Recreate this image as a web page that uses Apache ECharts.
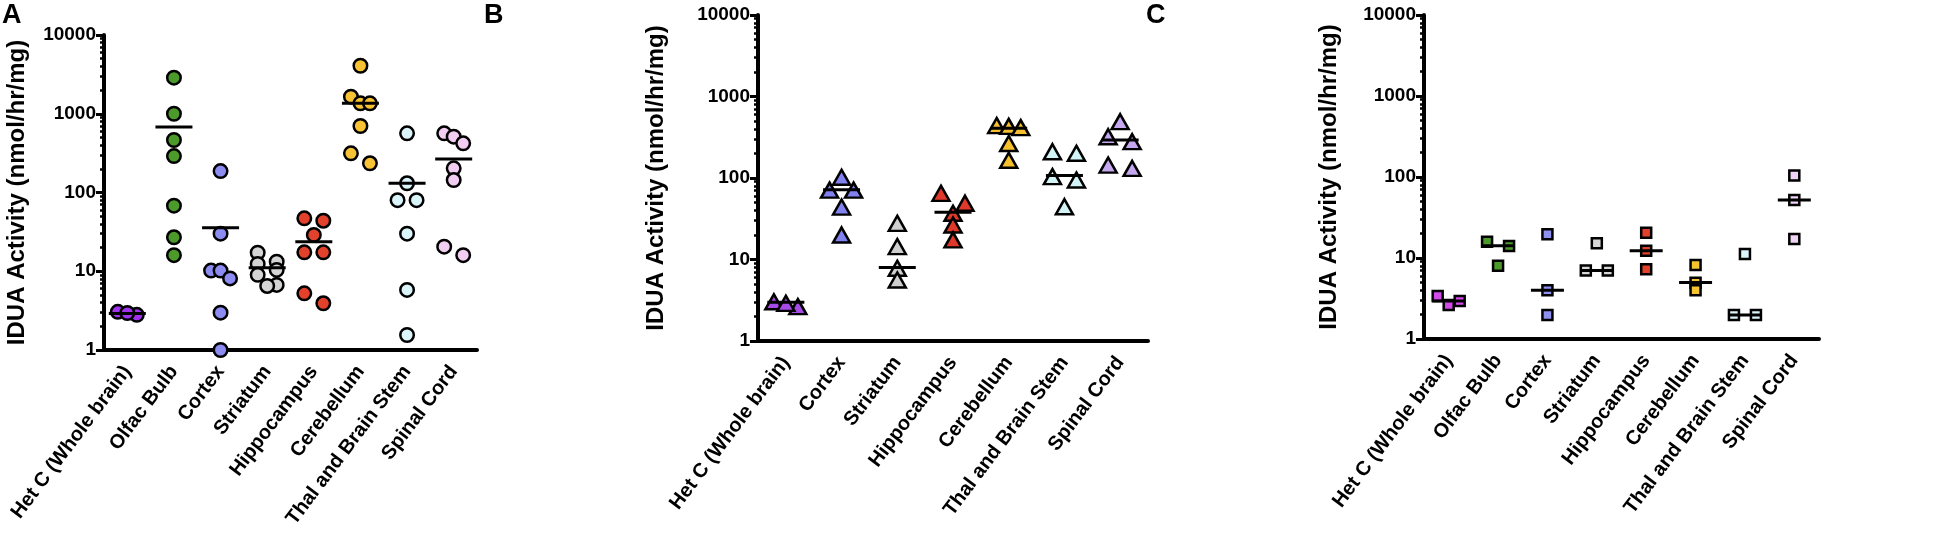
<!DOCTYPE html>
<html>
<head>
<meta charset="utf-8">
<title>IDUA Activity by brain region</title>
<script src="https://cdn.jsdelivr.net/npm/echarts@6.0.0/dist/echarts.min.js"></script>
<style>
    html, body { margin: 0; padding: 0; background: #fff; }
    #chart { width: 1954px; height: 541px; }
</style>
</head>
<body>
<div id="chart"></div>
<script>
// categories (x axis)
var regionsA = ['Het C (Whole brain)', 'Olfac Bulb', 'Cortex', 'Striatum', 'Hippocampus', 'Cerebellum', 'Thal and Brain Stem', 'Spinal Cord'];
var regionsB = ['Het C (Whole brain)', 'Cortex', 'Striatum', 'Hippocampus', 'Cerebellum', 'Thal and Brain Stem', 'Spinal Cord'];
var regionsC = ['Het C (Whole brain)', 'Olfac Bulb', 'Cortex', 'Striatum', 'Hippocampus', 'Cerebellum', 'Thal and Brain Stem', 'Spinal Cord'];

// IDUA activity (nmol/hr/mg), one list of animals per region
var valuesA = [
    [2.8, 3.05, 2.95],
    [2870, 1000, 464, 290, 68, 27, 16],
    [187, 30, 10.2, 10.2, 8.1, 2.98, 1.0],
    [17.2, 13.2, 12.4, 10.4, 9.0, 6.7, 6.5],
    [47, 43.8, 28.9, 17.4, 17.4, 5.25, 3.92],
    [4070, 1648, 1358, 1358, 699, 314, 235],
    [564, 131, 80, 80, 30, 5.8, 1.55],
    [564, 511, 421, 203, 144, 20.5, 16]
];
var valuesB = [
    [2.64, 3.03, 2.9],
    [102, 71, 71, 44, 20],
    [27.8, 14.4, 7.8, 5.6],
    [64.9, 49, 36.9, 26.5, 17.4],
    [440, 430, 415, 265, 165],
    [210, 201, 104, 94.5, 44.4],
    [491, 321, 279, 144, 131]
];
var valuesC = [
    [2.63, 3.4, 2.94],
    [15.9, 14.1, 8.0],
    [19.6, 4.0, 1.98],
    [15.2, 7.0, 7.0],
    [20.5, 12.3, 7.25],
    [8.2, 4.96, 4.0],
    [11.2, 1.98, 1.98],
    [104, 52, 17.2]
];

// horizontal bars (group centre lines)
var centersA = [2.9, 679, 35.7, 11.1, 23.7, 1358, 131, 266];
var centersB = [2.98, 72, 8.0, 37.9, 407, 107, 293];
var centersC = [2.94, 14.2, 4.0, 7.0, 12.3, 5.0, 1.98, 52];

// y axis ticks
var majorTicks = [1, 10, 100, 1000, 10000];
var minorTicks = [];
majorTicks.slice(0, -1).forEach(function (d) {
    for (var m = 2; m <= 9; m++) minorTicks.push(d * m);
});

var FONT = '"Liberation Sans", Arial, sans-serif';

var colorsA = ['#a132ee', '#4c9a2a', '#8c8cf2', '#d4d4d4', '#e2412b', '#f7c233', '#d9f5fa', '#f2cdf2'];
var colorsB = ['#a64be6', '#8181f0', '#cfcfcf', '#e0392b', '#f5bf2e', '#d2f4f6', '#c6a8f0'];
var colorsC = ['#d24ae8', '#4c9a2a', '#9090f0', '#d6d6d6', '#e2412b', '#f5c430', '#d9f5fa', '#f0d4f6'];

var panels = [
    { letter: 'A', cats: regionsA, vals: valuesA, centers: centersA, colors: colorsA,
      symbol: 'circle', size: 13.5, step: 9.5, barW: 37,
      rect: { left: 104, top: 35, width: 373, height: 315 }, nameGap: 75, letterX: 2 },
    { letter: 'B', cats: regionsB, vals: valuesB, centers: centersB, colors: colorsB,
      symbol: 'triangle', size: [17, 15], step: 12, barW: 37,
      rect: { left: 758, top: 15, width: 390, height: 326 }, nameGap: 90, letterX: 484 },
    { letter: 'C', cats: regionsC, vals: valuesC, centers: centersC, colors: colorsC,
      symbol: 'rect', size: 10, step: 11, barW: 33,
      rect: { left: 1424, top: 15, width: 395, height: 324 }, nameGap: 83, letterX: 1146 }
];

function logPx(a, b, h) {
    return Math.abs(Math.log10(a) - Math.log10(b)) * h / 4;
}

// simple dot-plot spreading: points close in height share a row
function spread(vals, h, size, step) {
    var order = vals.map(function (v, i) { return i; }).sort(function (a, b) { return vals[b] - vals[a]; });
    var offs = vals.map(function () { return 0; });
    var i = 0;
    while (i < order.length) {
        var row = [order[i]];
        var j = i + 1;
        while (j < order.length && logPx(vals[order[i]], vals[order[j]], h) < size * 0.75) {
            row.push(order[j]);
            j++;
        }
        var n = row.length;
        row.forEach(function (idx, r) {
            var slot = r - (n - 1) / 2;
            if (n % 2 === 0) slot = slot < 0 ? slot - 0.5 : slot + 0.5;
            offs[idx] = slot * step;
        });
        i = j;
    }
    return offs;
}

var grid = [], gridMinor = [];
var xMain = [], xMinor = [];
var yMajor = [], yMinor = [];
var series = [], graphic = [];

panels.forEach(function (p, k) {
    var n = p.cats.length;
    var band = p.rect.width / n;
    var symH = Array.isArray(p.size) ? p.size[1] : p.size;
    var rect = {
        left: p.rect.left, top: p.rect.top, width: p.rect.width, height: p.rect.height,
        containLabel: false, outerBoundsMode: 'none'
    };

    grid.push(rect);
    // a twin grid that only carries the minor ticks (2..9 per decade)
    gridMinor.push(Object.assign({}, rect));

    xMain.push({
        gridIndex: k,
        type: 'category',
        data: p.cats,
        boundaryGap: true,
        axisLine: { onZero: false, lineStyle: { color: '#000', width: 4 } },
        axisTick: { alignWithLabel: true, length: 8, lineStyle: { color: '#000', width: 3.5 } },
        axisLabel: {
            interval: 0, rotate: 53, margin: 18,
            fontSize: 20, fontWeight: 'bold', fontFamily: FONT, color: '#000'
        },
        splitLine: { show: false }
    });
    xMain.push({
        gridIndex: k, type: 'value', min: -0.5, max: n - 0.5, show: false
    });
    xMinor.push({
        gridIndex: 3 + k, type: 'value', min: 0, max: 1, show: false
    });

    yMajor.push({
        gridIndex: k,
        type: 'log', logBase: 10, min: 1, max: 10000,
        name: 'IDUA Activity (nmol/hr/mg)',
        nameLocation: 'middle',
        nameGap: p.nameGap,
        nameMoveOverlap: false,
        nameTextStyle: { fontSize: 24, fontWeight: 'bold', fontFamily: FONT, color: '#000' },
        axisLine: { show: true, onZero: false, lineStyle: { color: '#000', width: 4 } },
        axisTick: { show: true, length: 8, customValues: majorTicks, lineStyle: { color: '#000', width: 3 } },
        axisLabel: {
            customValues: majorTicks, margin: 8,
            fontSize: 19, fontWeight: 'bold', fontFamily: FONT, color: '#000',
            formatter: function (v) { return String(Math.round(v)); }
        },
        splitLine: { show: false }
    });
    yMinor.push({
        gridIndex: 3 + k,
        position: 'left',
        type: 'log', logBase: 10, min: 1, max: 10000,
        axisLine: { show: false, onZero: false },
        axisTick: { show: true, length: 4, customValues: minorTicks, lineStyle: { color: '#000', width: 2.5 } },
        axisLabel: { show: false },
        splitLine: { show: false }
    });

    p.vals.forEach(function (vals, i) {
        var offs = spread(vals, p.rect.height, symH, p.step);
        series.push({
            type: 'scatter',
            name: p.letter + ' ' + p.cats[i],
            xAxisIndex: 2 * k + 1,
            yAxisIndex: k,
            symbol: p.symbol,
            symbolSize: p.size,
            clip: false,
            itemStyle: {
                color: p.colors[i], opacity: 1,
                borderColor: '#000', borderWidth: 2.5, borderJoin: 'miter'
            },
            emphasis: { disabled: true },
            z: 3,
            data: vals.map(function (v, j) { return [i + offs[j] / band, v]; })
        });
    });

    series.push({
        type: 'scatter',
        name: p.letter + ' centre',
        xAxisIndex: 2 * k + 1,
        yAxisIndex: k,
        symbol: 'rect',
        symbolSize: [p.barW, 3],
        clip: false,
        itemStyle: { color: '#000', opacity: 1 },
        emphasis: { disabled: true },
        z: 5,
        data: p.centers.map(function (c, i) { return [i, c]; })
    });

    graphic.push({
        type: 'text', left: p.letterX, top: 2,
        style: { text: p.letter, fontSize: 27, fontWeight: 'bold', fontFamily: FONT, fill: '#000' }
    });
});

var chart = echarts.init(document.getElementById('chart'));
chart.setOption({
    backgroundColor: '#fff',
    animation: false,
    grid: grid.concat(gridMinor),
    xAxis: xMain.concat(xMinor),
    yAxis: yMajor.concat(yMinor),
    series: series,
    graphic: graphic
});
</script>
</body>
</html>
